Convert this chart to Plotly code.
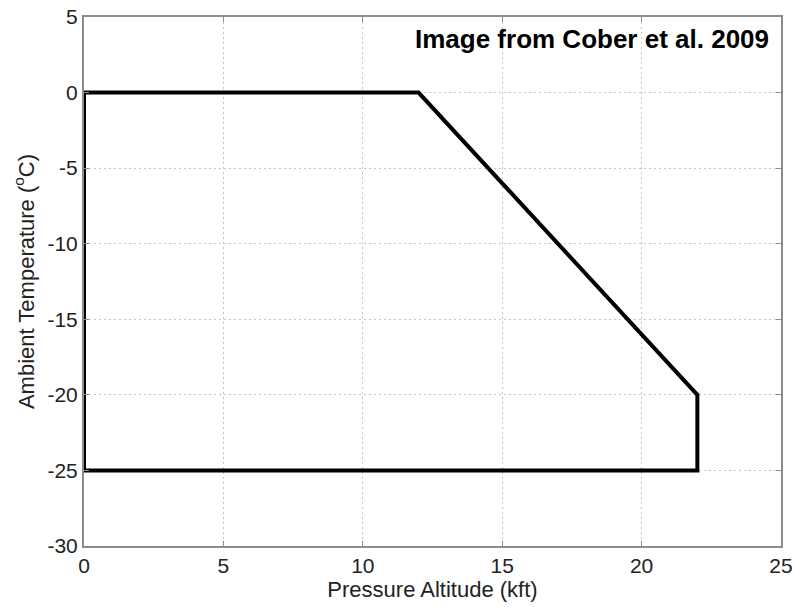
import plotly.graph_objects as go

# Icing envelope boundary: pressure altitude (kft) vs ambient temperature (°C)
altitude_kft = [0, 12, 22, 22, 0, 0]
temperature_c = [0, 0, -20, -25, -25, 0]

x_ticks = [0, 5, 10, 15, 20, 25]
y_ticks = [5, 0, -5, -10, -15, -20, -25, -30]

font_family = "Liberation Sans, Arial, sans-serif"

fig = go.Figure()
fig.add_trace(go.Scatter(
    x=altitude_kft, y=temperature_c, mode="lines",
    line=dict(color="black", width=4),
    showlegend=False, cliponaxis=False,
))

axis_common = dict(
    showgrid=True, gridcolor="#c4c4c4", griddash="2px,3px", gridwidth=1,
    showline=True, linecolor="#8c8c8c", linewidth=2, mirror="ticks",
    ticks="inside", ticklen=5, tickcolor="#8c8c8c",
    zeroline=False, automargin=False,
    tickfont=dict(family=font_family, size=21, color="#222"),
)

fig.update_layout(
    width=795, height=607,
    margin=dict(l=84, r=14, t=17, b=61, autoexpand=False),
    paper_bgcolor="white", plot_bgcolor="white",
    xaxis=dict(range=[0, 25], tickvals=x_ticks, ticktext=[str(v) for v in x_ticks],
               ticklabelstandoff=0,
               title=dict(text="Pressure Altitude (kft)", standoff=2,
                          font=dict(family=font_family, size=22, color="#222")),
               **axis_common),
    yaxis=dict(range=[-30, 5], tickvals=y_ticks, ticktext=[str(v) for v in y_ticks],
               ticklabelstandoff=0,
               title=dict(text="Ambient Temperature (<sup>o</sup>C)", standoff=7,
                          font=dict(family=font_family, size=22, color="#222")),
               **axis_common),
    annotations=[dict(
        text="<b>Image from Cober et al. 2009</b>",
        xref="paper", yref="paper", x=0.985, y=0.99,
        xanchor="right", yanchor="top", showarrow=False,
        font=dict(family=font_family, size=26, color="black"),
    )],
)

fig.write_html("out.html")
